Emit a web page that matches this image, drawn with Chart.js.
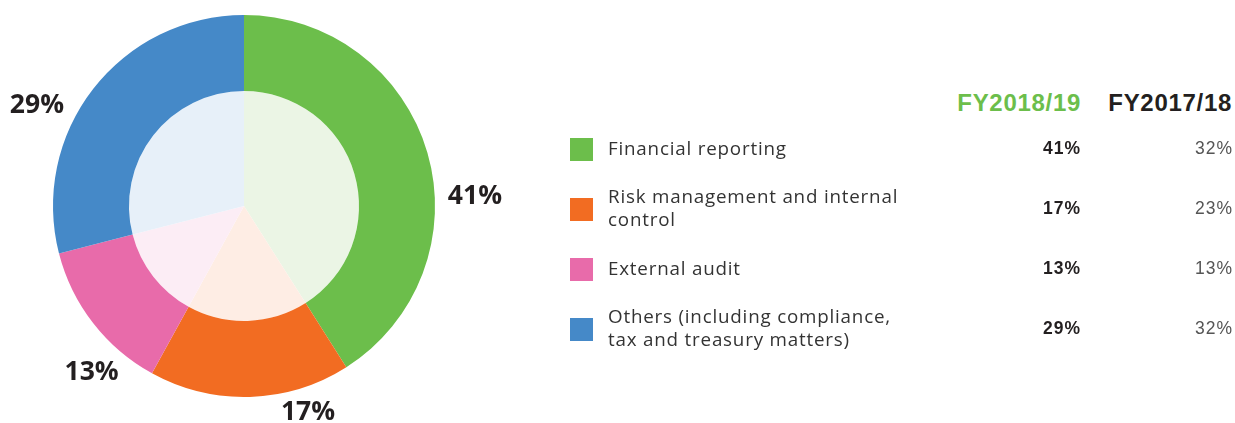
<!DOCTYPE html>
<html>
<head>
<meta charset="utf-8">
<script src="https://cdn.jsdelivr.net/npm/chart.js@4/dist/chart.umd.min.js"></script>
<style>
  body { margin: 0; background: #fff; }
  #wrap { position: relative; width: 1235px; height: 423px; overflow: hidden; }
  #pieBox { position: absolute; left: 0; top: 0; width: 540px; height: 423px; }
  .hdr { position: absolute; top: 88px; font: 700 24px "Liberation Sans", Arial, sans-serif; letter-spacing: 0.7px; line-height: 30px; }
  .row { position: absolute; left: 0; width: 1235px; height: 60px; }
  .swatch { position: absolute; left: 570px; width: 23px; height: 23px; top: 20px; }
  .name { position: absolute; left: 608px; top: 0; height: 60px; display: flex; align-items: center;
          font: 400 18.8px "Open Sans", sans-serif; letter-spacing: 0.8px; color: #333; line-height: 23px; }
  .cur, .prev { position: absolute; top: 0; height: 60px; display: flex; align-items: center; justify-content: flex-end;
                font-family: "Liberation Sans", Arial, sans-serif; font-size: 17.5px; letter-spacing: 1px; }
  .cur { right: 154px; font-weight: 700; color: #231f20; }
  .prev { right: 2px; font-weight: 400; color: #555; }
</style>
</head>
<body>
<div id="wrap">
  <div id="pieBox"><canvas id="pie"></canvas></div>
  <div class="hdr" style="right:154px;color:#6cbe4b">FY2018/19</div>
  <div class="hdr" style="right:3px;color:#231f20">FY2017/18</div>
  <div id="legend"></div>
</div>
<script>
// categories, one array of lines per category
const categories = [
  ["Financial reporting"],
  ["Risk management and internal", "control"],
  ["External audit"],
  ["Others (including compliance,", "tax and treasury matters)"]
];
const fy1819 = [41, 17, 13, 29];
const fy1718 = [32, 23, 13, 32];

const colors = ["#6cbe4b", "#f26c22", "#e86baa", "#4589c8"];
const paleColors = ["#ebf5e5", "#feede4", "#fcedf5", "#e7f0f9"];

// legend table on the right
const legend = document.getElementById("legend");
categories.forEach((lines, i) => {
  const row = document.createElement("div");
  row.className = "row";
  row.style.top = (118 + i * 60) + "px";
  row.innerHTML =
    `<div class="swatch" style="background:${colors[i]}"></div>` +
    `<div class="name">${lines.join("<br>")}</div>` +
    `<div class="cur">${fy1819[i]}%</div>` +
    `<div class="prev">${fy1718[i]}%</div>`;
  legend.appendChild(row);
});

// percentage labels outside the ring, offset from the centre in units of radius
const outerLabels = {
  id: "outerLabels",
  afterDatasetsDraw(chart, args, opts) {
    const ctx = chart.ctx;
    const arcs = chart.getDatasetMeta(0).data;
    ctx.save();
    ctx.font = "700 26.5px 'Open Sans', sans-serif";
    ctx.fillStyle = "#231f20";
    ctx.textAlign = "center";
    ctx.textBaseline = "middle";
    arcs.forEach((arc, i) => {
      const [dx, dy] = opts.offsets[i];
      const r = arc.outerRadius;
      ctx.fillText(chart.data.datasets[0].data[i] + "%", arc.x + dx * r, arc.y + dy * r);
    });
    ctx.restore();
  }
};

new Chart(document.getElementById("pie"), {
  type: "doughnut",
  data: {
    labels: categories,
    datasets: [
      { data: fy1819, backgroundColor: colors, borderWidth: 0, weight: 76 },
      { data: fy1819, backgroundColor: paleColors, borderWidth: 0, weight: 115 }
    ]
  },
  options: {
    responsive: true,
    maintainAspectRatio: false,
    animation: false,
    cutout: 0,
    layout: { padding: { left: 53, right: 105, top: 15, bottom: 26 } },
    plugins: {
      legend: { display: false },
      tooltip: { enabled: false },
      outerLabels: {
        offsets: [[1.209, -0.05], [0.335, 1.079], [-0.798, 0.869], [-1.084, -0.526]]
      }
    }
  },
  plugins: [outerLabels]
});
</script>
</body>
</html>
